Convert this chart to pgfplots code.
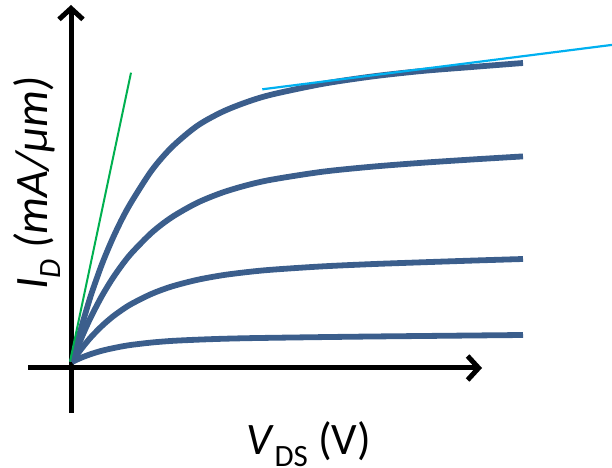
\documentclass[border=0pt]{standalone}
\usepackage{pgfplots}
\pgfplotsset{compat=1.18}
\usepackage{fontspec}
\setmainfont{Carlito}
\usetikzlibrary{arrows.meta}
\definecolor{curve}{HTML}{3B5E8C}
\definecolor{tgreen}{HTML}{00B050}
\definecolor{tcyan}{HTML}{00B0F0}
\newcommand{\sub}[1]{\raisebox{-0.28em}{\fontsize{31bp}{31bp}\selectfont #1}}
\begin{document}
\begin{tikzpicture}
\begin{axis}[
  scale only axis, width=612bp, height=468bp,
  xmin=-72, xmax=540, ymin=-106, ymax=362,
  axis line style={draw=none}, xtick=\empty, ytick=\empty, clip=true,
]
% axes
\addplot[black, line width=5bp, -{Straight Barb[length=11bp,width=24bp]}] coordinates {(-44,-6) (410,-6)};
\addplot[black, line width=5bp, -{Straight Barb[length=11bp,width=24bp]}] coordinates {(-1,-51) (-1,357)};
% curves
\addplot[curve, line width=5.8bp, smooth] coordinates {
(0,0) (5,19) (10,37) (15,54) (20,70) (30,98) (40,122) (50,143) (60,161) (80,192) (100,215) (125,236) (150,250) (175,260) (200,267.5) (250,278) (300,285.5) (350,291) (400,295) (451,299)};
\addplot[curve, line width=5.8bp, smooth] coordinates {
(0,0) (5,13.1) (10,25.3) (15,36.7) (20,47.2) (30,66.2) (40,82.7) (50,97.0) (60,109.4) (80,129.6) (100,144.9) (125,159.1) (150,169.3) (175,176.8) (200,182.4) (250,190.2) (300,195.3) (350,199.2) (400,202.5) (451,205.6)};
\addplot[curve, line width=5.8bp, smooth] coordinates {
(0,0) (5,7.3) (10,14.0) (15,20.2) (20,26.0) (30,36.1) (40,44.8) (50,52.1) (60,58.4) (80,68.3) (100,75.6) (125,82.1) (150,86.7) (175,89.9) (200,92.3) (250,95.6) (300,97.9) (350,99.7) (400,101.4) (451,103.0)};
\addplot[curve, line width=5.8bp, smooth] coordinates {
(0,0) (5,2.4) (10,4.6) (15,6.5) (20,8.3) (30,11.3) (40,13.6) (50,15.6) (60,17.2) (80,19.5) (100,21.1) (125,22.3) (150,23.2) (175,23.8) (200,24.2) (250,24.9) (300,25.5) (350,26.0) (400,26.5) (451,27.0)};
% tangents
\addplot[tgreen, line width=2bp] coordinates {(-2,0.3) (59,289.3)};
\addplot[tcyan, line width=2.2bp] coordinates {(190.3,272.7) (540,317.1)};
% labels
\node[rotate=90, anchor=base west, inner sep=0pt, font=\fontsize{46.5bp}{52bp}\selectfont\itshape] at (axis cs:-25,72) {I\sub{D} (mA/μm)};
\node[anchor=base west, inner sep=0pt, font=\fontsize{45bp}{50bp}\selectfont] at (axis cs:174.7,-92) {\textit{V}\sub{DS} (V)};
\end{axis}
\end{tikzpicture}
\end{document}
